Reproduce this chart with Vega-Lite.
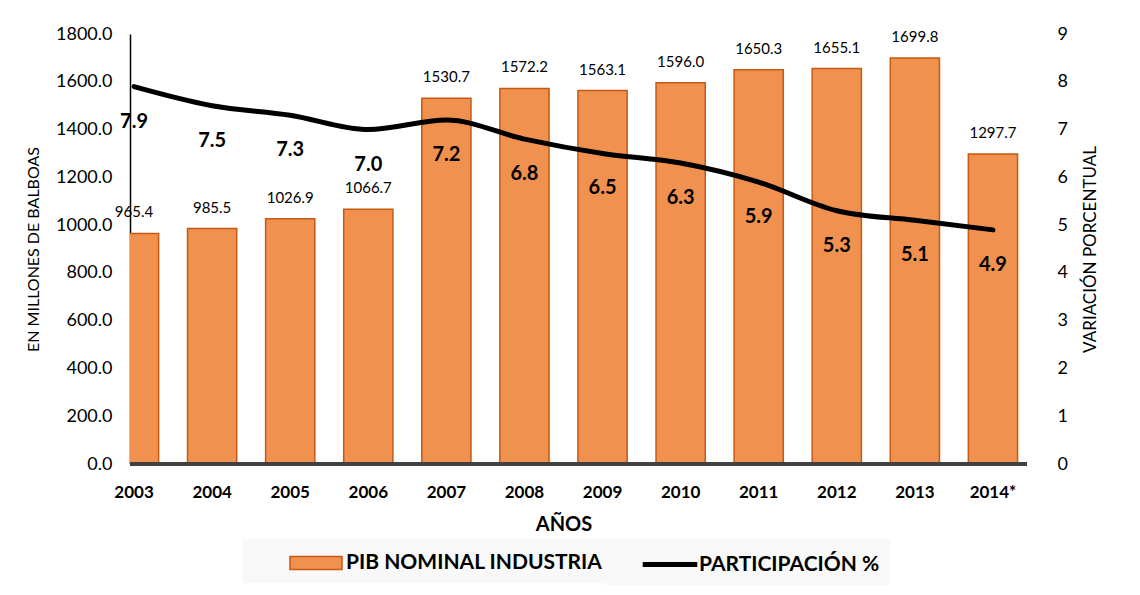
{
  "$schema": "https://vega.github.io/schema/vega-lite/v6.json",
  "width": 897,
  "height": 430,
  "autosize": "none",
  "padding": {"left": 130, "top": 34, "right": 113, "bottom": 131},
  "background": "white",
  "config": {
    "font": "Lato",
    "view": {"stroke": null},
    "axis": {"labelColor": "#000000", "titleColor": "#000000", "grid": false, "ticks": false}
  },
  "data": {
    "values": [
      {"year": "2003", "pib": 965.4, "part": 7.9},
      {"year": "2004", "pib": 985.5, "part": 7.5},
      {"year": "2005", "pib": 1026.9, "part": 7.3},
      {"year": "2006", "pib": 1066.7, "part": 7.0},
      {"year": "2007", "pib": 1530.7, "part": 7.2},
      {"year": "2008", "pib": 1572.2, "part": 6.8},
      {"year": "2009", "pib": 1563.1, "part": 6.5},
      {"year": "2010", "pib": 1596.0, "part": 6.3},
      {"year": "2011", "pib": 1650.3, "part": 5.9},
      {"year": "2012", "pib": 1655.1, "part": 5.3},
      {"year": "2013", "pib": 1699.8, "part": 5.1},
      {"year": "2014*", "pib": 1297.7, "part": 4.9}
    ]
  },
  "layer": [
    {
      "layer": [
        {
          "mark": {"type": "bar", "clip": true, "stroke": "#C55A11", "strokeWidth": 1.5},
          "encoding": {
            "x": {
              "field": "year", "type": "ordinal", "sort": null,
              "scale": {"type": "band", "range": [-35, 902], "paddingInner": 0.37, "paddingOuter": 0.185},
              "axis": {
                "title": "AÑOS", "domain": false, "labelAngle": 0,
                "labelFontSize": 17, "labelFontWeight": "bold", "labelPadding": 20,
                "titleFontSize": 20, "titleFontWeight": "bold", "titlePadding": 14
              }
            },
            "y": {
              "field": "pib", "type": "quantitative",
              "scale": {"domain": [0, 1800]},
              "axis": {
                "title": "EN  MILLONES DE BALBOAS", "values": [0, 200, 400, 600, 800, 1000, 1200, 1400, 1600, 1800],
                "format": ".1f", "domainColor": "#000000", "domainWidth": 1.5,
                "labelFontSize": 18, "labelPadding": 18,
                "titleFontSize": 16, "titleFontWeight": "normal", "titlePadding": 14
              }
            },
            "fill": {
              "datum": "PIB NOMINAL INDUSTRIA", "type": "nominal",
              "scale": {"range": ["#F0914F"]},
              "legend": {
                "orient": "none", "legendX": 113, "legendY": 505,
                "title": null, "fillColor": "#F8F8F8", "padding": 10,
                "labelFontSize": 21, "labelFontWeight": "bold", "labelColor": "#000000", "labelLimit": 400,
                "symbolType": "M-2,-0.5H2V0.5H-2Z", "symbolSize": 676, "symbolOffset": 49, "labelOffset": 16,
                "symbolStrokeColor": "#C55A11", "symbolStrokeWidth": 1.5, "symbolOpacity": 1
              }
            }
          }
        },
        {
          "mark": {"type": "text", "dy": -21, "fontSize": 15, "color": "#000000"},
          "encoding": {
            "x": {"field": "year", "type": "ordinal", "sort": null},
            "y": {"field": "pib", "type": "quantitative"},
            "text": {"field": "pib", "type": "quantitative", "format": ".1f"}
          }
        },
        {
          "mark": {"type": "rule", "color": "#404040", "strokeWidth": 3},
          "encoding": {"y": {"datum": 0}}
        }
      ]
    },
    {
      "layer": [
        {
          "mark": {"type": "line", "interpolate": "monotone", "strokeWidth": 5, "strokeCap": "round", "strokeJoin": "round"},
          "encoding": {
            "x": {"field": "year", "type": "ordinal", "sort": null},
            "y": {
              "field": "part", "type": "quantitative",
              "scale": {"domain": [0, 9]},
              "axis": {
                "orient": "right", "title": "VARIACIÓN PORCENTUAL", "values": [0, 1, 2, 3, 4, 5, 6, 7, 8, 9],
                "format": "d", "domain": false, "labelFontSize": 18, "labelPadding": 30,
                "titleFontSize": 17, "titleFontWeight": "normal", "titleAngle": 270,
                "titleX": 63, "titleY": 215, "titleAlign": "center", "titleBaseline": "middle"
              }
            },
            "stroke": {
              "datum": "PARTICIPACIÓN %", "type": "nominal",
              "scale": {"range": ["#000000"]},
              "legend": {
                "orient": "none", "legendX": 475, "legendY": 505,
                "title": null, "fillColor": "#F8F8F8", "padding": 10,
                "labelFontSize": 21, "labelFontWeight": "bold", "labelColor": "#000000", "labelLimit": 400,
                "labelExpr": "datum.label + '        '",
                "symbolType": "M-2.1,0H2.1", "symbolSize": 676, "symbolOffset": 39.5, "labelOffset": 13.5,
                "symbolStrokeWidth": 5, "symbolOpacity": 1
              }
            }
          }
        },
        {
          "mark": {"type": "text", "dy": 35, "fontSize": 20, "fontWeight": "bold", "color": "#000000"},
          "encoding": {
            "x": {"field": "year", "type": "ordinal", "sort": null},
            "y": {"field": "part", "type": "quantitative"},
            "text": {"field": "part", "type": "quantitative", "format": ".1f"}
          }
        }
      ]
    }
  ],
  "resolve": {"scale": {"y": "independent"}}
}
